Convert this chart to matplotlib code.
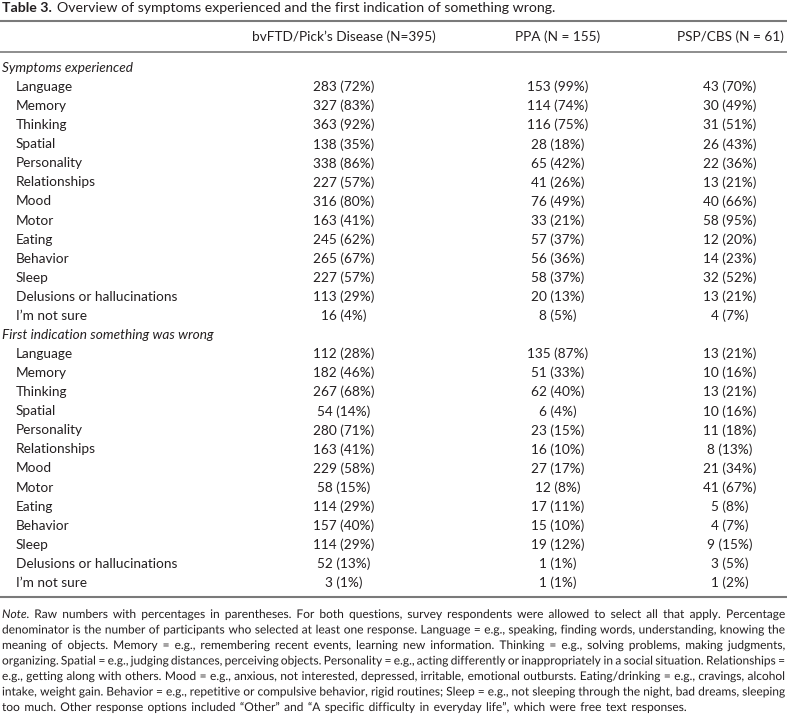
"""Table 3: symptoms experienced and first indication of something wrong."""

import matplotlib
matplotlib.use("Agg")
import matplotlib.pyplot as plt
import matplotlib.patheffects as pe

# --- data -------------------------------------------------------------
items = ["Language", "Memory", "Thinking", "Spatial", "Personality",
         "Relationships", "Mood", "Motor", "Eating", "Behavior", "Sleep",
         "Delusions or hallucinations", "I\u2019m not sure"]
columns = ["bvFTD/Pick\u2019s Disease (N=395)", "PPA (N = 155)", "PSP/CBS (N = 61)"]
sections = ["Symptoms experienced", "First indication something was wrong"]

bv_sym = [283, 327, 363, 138, 338, 227, 316, 163, 245, 265, 227, 113, 16]
bv_sym_pct = [72, 83, 92, 35, 86, 57, 80, 41, 62, 67, 57, 29, 4]
ppa_sym = [153, 114, 116, 28, 65, 41, 76, 33, 57, 56, 58, 20, 8]
ppa_sym_pct = [99, 74, 75, 18, 42, 26, 49, 21, 37, 36, 37, 13, 5]
psp_sym = [43, 30, 31, 26, 22, 13, 40, 58, 12, 14, 32, 13, 4]
psp_sym_pct = [70, 49, 51, 43, 36, 21, 66, 95, 20, 23, 52, 21, 7]

bv_first = [112, 182, 267, 54, 280, 163, 229, 58, 114, 157, 114, 52, 3]
bv_first_pct = [28, 46, 68, 14, 71, 41, 58, 15, 29, 40, 29, 13, 1]
ppa_first = [135, 51, 62, 6, 23, 16, 27, 12, 17, 15, 19, 1, 1]
ppa_first_pct = [87, 33, 40, 4, 15, 10, 17, 8, 11, 10, 12, 1, 1]
psp_first = [13, 10, 13, 10, 11, 8, 21, 41, 5, 4, 9, 3, 1]
psp_first_pct = [21, 16, 21, 16, 18, 13, 34, 67, 8, 7, 15, 5, 2]

note_lines = [
    "Note. Raw numbers with percentages in parentheses. For both questions, survey respondents were allowed to select all that apply. Percentage",
    "denominator is the number of participants who selected at least one response. Language = e.g., speaking, finding words, understanding, knowing the",
    "meaning of objects. Memory = e.g., remembering recent events, learning new information. Thinking = e.g., solving problems, making judgments,",
    "organizing. Spatial = e.g., judging distances, perceiving objects. Personality = e.g., acting differently or inappropriately in a social situation. Relationships =",
    "e.g., getting along with others. Mood = e.g., anxious, not interested, depressed, irritable, emotional outbursts. Eating/drinking = e.g., cravings, alcohol",
    "intake, weight gain. Behavior = e.g., repetitive or compulsive behavior, rigid routines; Sleep = e.g., not sleeping through the night, bad dreams, sleeping",
    "too much. Other response options included \u201cOther\u201d and \u201cA specific difficulty in everyday life\u201d, which were free text responses.",
]

# --- layout -----------------------------------------------------------
W, H = 787, 715
FONT = "Lato"
TXT = "#231f20"
RULE = "#7a7a7a"
FS = 9.8
NOTE_FS = 8.6
col_x = [344, 558, 730]
row_h = 19.07
y0 = 68  # first section heading


class NoSnapPath(pe.AbstractPathEffect):
    """Draw text as an unsnapped path (keeps word baselines level)."""

    def draw_path(self, renderer, gc, tpath, affine, rgbFace=None):
        gc.set_snap(False)
        renderer.draw_path(gc, tpath, affine, rgbFace)


plt.rcParams["font.family"] = [FONT, "DejaVu Sans"]

fig = plt.figure(figsize=(W / 100, H / 100), dpi=100)
ax = fig.add_axes([0, 0, 1, 1])
ax.set_xlim(0, W)
ax.set_ylim(H, 0)
ax.axis("off")
fig.canvas.draw()
r = fig.canvas.get_renderer()

# title
t1 = ax.text(2, 8, "Table 3.", fontsize=10.2, fontweight="bold", color=TXT, va="center")
ax.text(2 + t1.get_window_extent(r).width + 5, 8,
        "Overview of symptoms experienced and the first indication of something wrong.",
        fontsize=10.2, color=TXT, va="center")

# rules
for y, lw in [(21, 1.5), (52, 1.2), (597, 1.5)]:
    ax.plot([0, W], [y, y], color=RULE, lw=lw, solid_capstyle="butt")

# header
for x, c in zip(col_x, columns):
    ax.text(x, 37, c, fontsize=FS, color=TXT, ha="center", va="center")

blocks = [
    [(bv_sym, bv_sym_pct), (ppa_sym, ppa_sym_pct), (psp_sym, psp_sym_pct)],
    [(bv_first, bv_first_pct), (ppa_first, ppa_first_pct), (psp_first, psp_first_pct)],
]

row = 0
for sec, block in zip(sections, blocks):
    y = y0 + row * row_h
    ax.text(2, y, sec, fontsize=FS, style="italic", color=TXT, va="center")
    row += 1
    for i, name in enumerate(items):
        y = y0 + row * row_h
        ax.text(16, y, name, fontsize=FS, color=TXT, va="center")
        for x, (cnt, pct) in zip(col_x, block):
            ax.text(x, y, f"{cnt[i]} ({pct[i]}%)", fontsize=FS, color=TXT,
                    ha="center", va="center")
        row += 1

# note: word by word, justified
note_y = 618
note_dy = 15.5
left, right = 2, 785
as_path = [NoSnapPath()]
for k, line in enumerate(note_lines):
    y = note_y + k * note_dy
    words = line.split(" ")
    objs = []
    for j, w in enumerate(words):
        kw = dict(fontsize=NOTE_FS, color=TXT, va="baseline", path_effects=as_path)
        if k == 0 and j == 0:
            objs.append([ax.text(0, y, "Note", style="italic", **kw),
                         ax.text(0, y, ".", **kw)])
        else:
            objs.append([ax.text(0, y, w, **kw)])
    widths = [[o.get_window_extent(r).width for o in grp] for grp in objs]
    total = sum(sum(g) for g in widths)
    if k < len(note_lines) - 1:
        gap = (right - left - total) / (len(words) - 1)
    else:
        gap = 4.5
    x = left
    for grp, ws in zip(objs, widths):
        for o, wd in zip(grp, ws):
            o.set_x(x)
            x += wd
        x += gap

fig.savefig("out.png", dpi=100)
